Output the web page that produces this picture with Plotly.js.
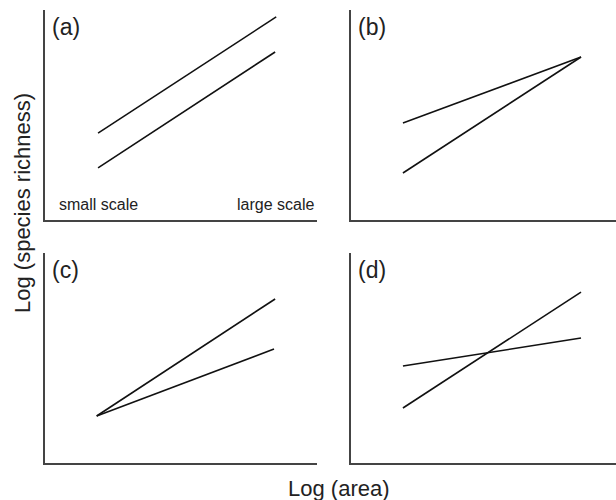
<!DOCTYPE html>
<html>
<head>
<meta charset="utf-8">
<script src="https://cdn.plot.ly/plotly-3.0.1.min.js"></script>
<style>
  html, body { margin: 0; padding: 0; background: #fff; }
  #chart { width: 616px; height: 500px; }
</style>
</head>
<body>
<div id="chart"></div>
<script>
// Panel labels and scale labels
const panelLabels = ["(a)", "(b)", "(c)", "(d)"];
const scaleLabels = ["small scale", "large scale"];
const xTitle = "Log (area)";
const yTitle = "Log (species richness)";

// Line endpoints (x = log area units, y = log richness units), per panel
const aX1 = [1.95, 8.5];  const aY1 = [4.14, 9.67];
const aX2 = [1.95, 8.46]; const aY2 = [2.48, 8.0];

const bX1 = [1.96, 8.68]; const bY1 = [4.62, 7.76];
const bX2 = [1.96, 8.68]; const bY2 = [2.24, 7.76];

const cX1 = [1.9, 8.46];  const cY1 = [2.24, 7.81];
const cX2 = [1.9, 8.42];  const cY2 = [2.24, 5.43];

const dX1 = [1.96, 8.68]; const dY1 = [2.62, 8.14];
const dX2 = [1.96, 8.68]; const dY2 = [4.62, 5.95];

const W = 616, H = 500;
const lineStyle = {color: '#111', width: 1.6};

function tr(x, y, xa, ya) {
  return {x: x, y: y, xaxis: xa, yaxis: ya, type: 'scatter', mode: 'lines',
          line: lineStyle, showlegend: false, hoverinfo: 'skip'};
}

const data = [
  tr(aX1, aY1, 'x', 'y'), tr(aX2, aY2, 'x', 'y'),
  tr(bX1, bY1, 'x2', 'y2'), tr(bX2, bY2, 'x2', 'y2'),
  tr(cX1, cY1, 'x3', 'y3'), tr(cX2, cY2, 'x3', 'y3'),
  tr(dX1, dY1, 'x4', 'y4'), tr(dX2, dY2, 'x4', 'y4')
];

function ax(domain, anchor) {
  return {domain: domain, anchor: anchor, range: [0, 10], showline: true,
          linecolor: '#444', linewidth: 2, showgrid: false, zeroline: false,
          showticklabels: false, ticks: '', fixedrange: true};
}

const leftX = [45 / W, 317 / W];
const rightX = [351 / W, 616 / W];
const topY = [(H - 220) / H, (H - 10) / H];
const botY = [(H - 463) / H, (H - 253) / H];

const font = {family: 'Liberation Sans, Arial, sans-serif', color: '#222'};

const annotations = [];
const refs = [['x', 'y'], ['x2', 'y2'], ['x3', 'y3'], ['x4', 'y4']];
panelLabels.forEach((t, i) => {
  annotations.push({text: t, xref: refs[i][0] + ' domain', yref: refs[i][1] + ' domain',
    x: 0.02, y: 0.92, xanchor: 'left', yanchor: 'middle', showarrow: false,
    font: Object.assign({size: 23}, font)});
});
annotations.push({text: scaleLabels[0], xref: 'x domain', yref: 'y domain',
  x: 0.043, y: 0.076, xanchor: 'left', yanchor: 'middle', showarrow: false,
  font: Object.assign({size: 16}, font)});
annotations.push({text: scaleLabels[1], xref: 'x domain', yref: 'y domain',
  x: 0.995, y: 0.076, xanchor: 'right', yanchor: 'middle', showarrow: false,
  font: Object.assign({size: 16}, font)});
annotations.push({text: yTitle, xref: 'paper', yref: 'paper', x: 22 / W, y: (H - 203) / H,
  xanchor: 'center', yanchor: 'middle', textangle: -90, showarrow: false,
  font: Object.assign({size: 22}, font)});
annotations.push({text: xTitle, xref: 'paper', yref: 'paper', x: 339 / W, y: 12 / H,
  xanchor: 'center', yanchor: 'middle', showarrow: false,
  font: Object.assign({size: 22}, font)});

const layout = {
  width: W, height: H,
  margin: {l: 0, r: 0, t: 0, b: 0, pad: 0},
  paper_bgcolor: '#fff', plot_bgcolor: '#fff',
  showlegend: false,
  xaxis: ax(leftX, 'y'), yaxis: ax(topY, 'x'),
  xaxis2: ax(rightX, 'y2'), yaxis2: ax(topY, 'x2'),
  xaxis3: ax(leftX, 'y3'), yaxis3: ax(botY, 'x3'),
  xaxis4: ax(rightX, 'y4'), yaxis4: ax(botY, 'x4'),
  annotations: annotations
};

Plotly.newPlot('chart', data, layout, {displayModeBar: false, staticPlot: true});
</script>
</body>
</html>
